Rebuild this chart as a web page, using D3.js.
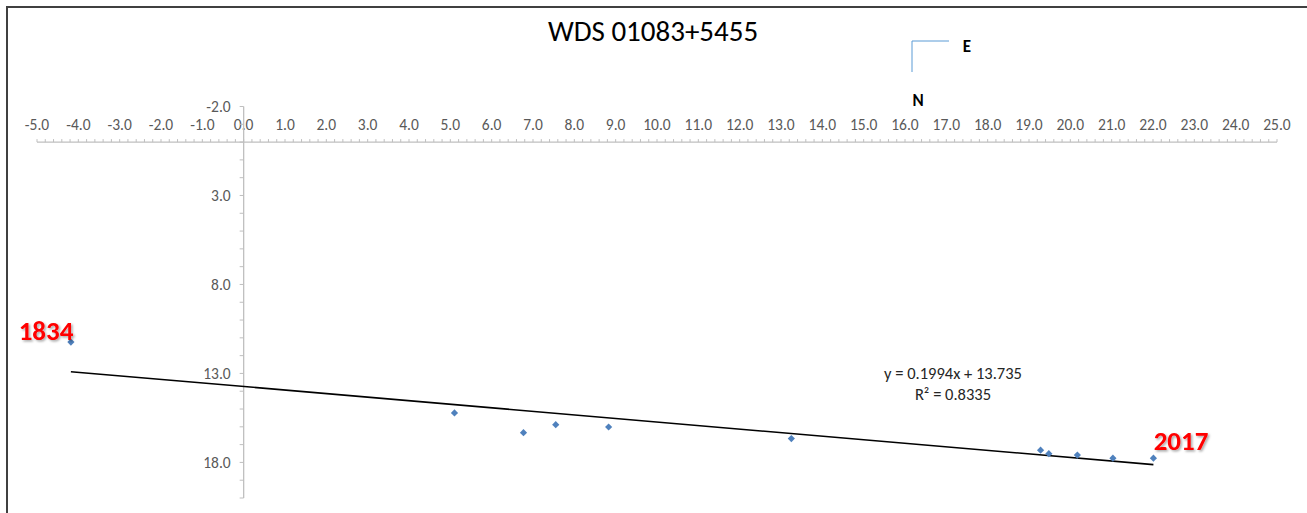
<!DOCTYPE html>
<html>
<head>
<meta charset="utf-8">
<script src="https://cdn.jsdelivr.net/npm/d3@7"></script>
<style>
  body { margin: 0; background: #fff; }
  svg { display: block; font-family: Carlito, Calibri, Lato, sans-serif; }
</style>
</head>
<body>
<div id="chart"></div>
<script>
// data (y axis runs downward)
var xValues = [-4.18, 5.10, 6.77, 7.55, 8.83, 13.25, 19.28, 19.48, 20.17, 21.03, 22.01];
var yValues = [11.24, 15.22, 16.33, 15.88, 16.01, 16.66, 17.31, 17.51, 17.59, 17.76, 17.76];
var xTicks = d3.range(-5, 25.01, 1);
var yTicks = [-2, 3, 8, 13, 18];
var trendSlope = 0.1994;
var trendIntercept = 13.735;
var trendR2 = 0.8335;
var firstYear = "1834";
var lastYear = "2017";
var chartTitle = "WDS 01083+5455";

var svgWidth = 1307;
var svgHeight = 513;

var svg = d3.select("#chart")
    .append("svg")
    .attr("width", svgWidth)
    .attr("height", svgHeight);

// frame (only left and top edges show)
svg.append("rect")
    .attr("x", 7)
    .attr("y", 7)
    .attr("width", 1320)
    .attr("height", 530)
    .attr("fill", "none")
    .attr("stroke", "#404040")
    .attr("stroke-width", 2);

// scales
var xScale = d3.scaleLinear()
    .domain([-5, 25])
    .range([37, 1277]);

var yScale = d3.scaleLinear()
    .domain([-2, 20])
    .range([106.5, 498]);

var axisColor = "#BFBFBF";
var labelColor = "#595959";
var fmt = d => d3.format(".1f")(d).replace("−", "-");

// x axis at y = 0
var xAxisG = svg.append("g")
    .attr("transform", `translate(0, ${yScale(0)})`);

xAxisG.append("line")
    .attr("x1", xScale(-5))
    .attr("x2", xScale(25))
    .attr("stroke", axisColor)
    .attr("stroke-width", 1.3);

xAxisG.selectAll(".minor")
    .data(d3.range(-5, 25.001, 0.2))
    .enter()
    .append("line")
    .attr("x1", d => xScale(d))
    .attr("x2", d => xScale(d))
    .attr("y1", 0)
    .attr("y2", -3)
    .attr("stroke", axisColor);

svg.append("g").selectAll("text")
    .data(xTicks)
    .enter()
    .append("text")
    .attr("x", d => xScale(d))
    .attr("y", yScale(0) - 12)
    .attr("text-anchor", "middle")
    .attr("font-size", 15.5)
    .attr("fill", labelColor)
    .text(fmt);

// y axis at x = 0
var yAxisG = svg.append("g")
    .attr("transform", `translate(${xScale(0)}, 0)`);

yAxisG.append("line")
    .attr("y1", yScale(-2))
    .attr("y2", yScale(20))
    .attr("stroke", axisColor)
    .attr("stroke-width", 1.3);

yAxisG.selectAll(".minor")
    .data(d3.range(-2, 20.001, 1))
    .enter()
    .append("line")
    .attr("y1", d => yScale(d))
    .attr("y2", d => yScale(d))
    .attr("x1", 0)
    .attr("x2", -4)
    .attr("stroke", axisColor);

svg.append("g").selectAll("text")
    .data(yTicks)
    .enter()
    .append("text")
    .attr("x", xScale(0) - 13)
    .attr("y", d => yScale(d))
    .attr("dy", "0.35em")
    .attr("text-anchor", "end")
    .attr("font-size", 15.5)
    .attr("fill", labelColor)
    .text(fmt);

// trendline
var xMin = d3.min(xValues);
var xMax = d3.max(xValues);
svg.append("line")
    .attr("x1", xScale(xMin))
    .attr("y1", yScale(trendSlope * xMin + trendIntercept))
    .attr("x2", xScale(xMax))
    .attr("y2", yScale(trendSlope * xMax + trendIntercept))
    .attr("stroke", "#000")
    .attr("stroke-width", 1.6);

// points - small square diamonds
var points = xValues.map((x, i) => ({x: x, y: yValues[i]}));
svg.append("g").selectAll("path")
    .data(points)
    .enter()
    .append("path")
    .attr("d", d3.symbol().type(d3.symbolSquare).size(26))
    .attr("transform", d => `translate(${xScale(d.x)}, ${yScale(d.y)}) rotate(45)`)
    .attr("fill", "#4F81BD");

// equation
svg.append("text")
    .attr("x", 953)
    .attr("y", 379)
    .attr("text-anchor", "middle")
    .attr("font-size", 16.5)
    .attr("fill", "#262626")
    .text(`y = ${trendSlope}x + ${trendIntercept}`);

svg.append("text")
    .attr("x", 953)
    .attr("y", 400)
    .attr("text-anchor", "middle")
    .attr("font-size", 16.5)
    .attr("fill", "#262626")
    .text(`R² = ${trendR2}`);

// title
svg.append("text")
    .attr("x", 653)
    .attr("y", 41)
    .attr("text-anchor", "middle")
    .attr("font-size", 29)
    .attr("fill", "#000")
    .text(chartTitle);

// compass
svg.append("path")
    .attr("d", "M949,41H912V72")
    .attr("fill", "none")
    .attr("stroke", "#5B9BD5")
    .attr("stroke-width", 1);

svg.append("text")
    .attr("x", 967)
    .attr("y", 52)
    .attr("text-anchor", "middle")
    .attr("font-size", 17)
    .attr("font-weight", "bold")
    .text("E");

svg.append("text")
    .attr("x", 918)
    .attr("y", 106)
    .attr("text-anchor", "middle")
    .attr("font-size", 17)
    .attr("font-weight", "bold")
    .text("N");

// year labels
var defs = svg.append("defs");
var shadow = defs.append("filter").attr("id", "shadow");
shadow.append("feDropShadow")
    .attr("dx", 1.5)
    .attr("dy", 1.5)
    .attr("stdDeviation", 1)
    .attr("flood-color", "#000")
    .attr("flood-opacity", 0.35);

svg.append("text")
    .attr("x", 46)
    .attr("y", 340)
    .attr("text-anchor", "middle")
    .attr("font-size", 27)
    .attr("font-weight", "bold")
    .attr("fill", "#FF0000")
    .attr("filter", "url(#shadow)")
    .text(firstYear);

svg.append("text")
    .attr("x", 1181)
    .attr("y", 450)
    .attr("text-anchor", "middle")
    .attr("font-size", 27)
    .attr("font-weight", "bold")
    .attr("fill", "#FF0000")
    .attr("filter", "url(#shadow)")
    .text(lastYear);
</script>
</body>
</html>
